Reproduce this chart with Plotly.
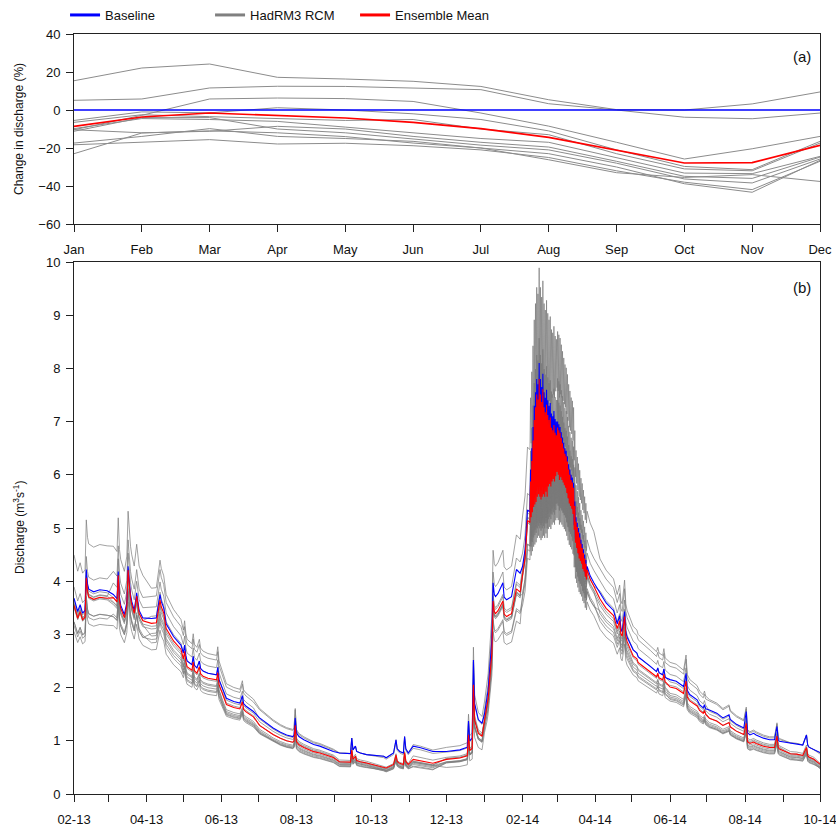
import pandas as pd
import plotly.graph_objects as go

# ---------------- Panel (a): monthly change in discharge (%) ----------------
months = ["Jan", "Feb", "Mar", "Apr", "May", "Jun", "Jul", "Aug", "Sep", "Oct", "Nov", "Dec"]
baseline_change = [0, 0, 0, 0, 0, 0, 0, 0, 0, 0, 0, 0]
rcm_01 = [15.4, 22.1, 24.2, 17.2, 16.3, 15.1, 12.4, 5.4, 0.2, 0.0, 3.2, 9.5]
rcm_02 = [5.1, 5.8, 11.6, 12.5, 12.4, 11.6, 10.7, 3.3, 0.0, -3.8, -4.6, -1.6]
rcm_03 = [-10.4, -2.8, 5.8, 6.3, 6.0, 4.5, -1.6, -8.5, -17.0, -25.8, -20.4, -13.9]
rcm_04 = [-5.5, -1.0, -1.5, 1.2, 0.0, -2.0, -5.0, -11.0, -21.0, -29.7, -31.4, -16.5]
rcm_05 = [-6.5, -2.5, -3.5, -4.5, -5.5, -5.0, -10.0, -13.0, -23.0, -31.0, -32.0, -17.4]
rcm_06 = [-9.8, -4.5, -5.0, -6.0, -9.0, -12.0, -15.0, -17.0, -25.0, -33.2, -33.5, -24.4]
rcm_07 = [-10.4, -12.0, -11.2, -8.6, -10.0, -13.9, -17.0, -19.5, -27.0, -34.9, -36.0, -24.8]
rcm_08 = [-11.2, -4.0, -4.0, -10.0, -12.0, -15.3, -18.5, -21.0, -28.0, -36.3, -38.4, -25.8]
rcm_09 = [-17.4, -13.9, -9.8, -13.9, -15.0, -16.5, -20.0, -23.0, -30.0, -38.8, -43.3, -26.5]
rcm_10 = [-18.3, -17.0, -15.6, -17.9, -17.5, -18.8, -21.0, -25.0, -32.0, -38.0, -41.9, -27.0]
rcm_11 = [-23.0, -12.1, -11.0, -12.0, -14.0, -17.4, -20.0, -26.2, -33.0, -35.5, -34.0, -37.6]
rcm_members = [rcm_01, rcm_02, rcm_03, rcm_04, rcm_05, rcm_06,
               rcm_07, rcm_08, rcm_09, rcm_10, rcm_11]
ensemble_change = [-8.6, -3.7, -1.6, -2.8, -4.2, -6.5, -9.8, -14.4, -21.2, -27.9, -27.7, -18.6]

# ---------------- Panel (b): baseline discharge (m3/s) ----------------
base_dates = [
    "2013-02-01", "2013-02-03", "2013-02-04", "2013-02-06", "2013-02-08", "2013-02-10",
    "2013-02-11", "2013-02-12", "2013-02-13", "2013-02-17", "2013-02-22", "2013-02-28",
    "2013-03-05", "2013-03-08", "2013-03-09", "2013-03-10", "2013-03-11", "2013-03-14",
    "2013-03-16", "2013-03-17", "2013-03-18", "2013-03-19", "2013-03-20", "2013-03-22",
    "2013-03-24", "2013-03-25", "2013-03-26", "2013-03-29", "2013-04-05", "2013-04-09",
    "2013-04-12", "2013-04-13", "2013-04-15", "2013-04-17", "2013-04-20", "2013-04-23",
    "2013-04-26", "2013-04-29", "2013-05-01", "2013-05-02", "2013-05-03", "2013-05-04",
    "2013-05-08", "2013-05-09", "2013-05-10", "2013-05-12", "2013-05-14", "2013-05-15",
    "2013-05-17", "2013-05-21", "2013-05-28", "2013-05-29", "2013-05-30", "2013-05-31",
    "2013-06-02", "2013-06-05", "2013-06-11", "2013-06-16", "2013-06-18", "2013-06-19",
    "2013-06-21", "2013-06-27", "2013-07-02", "2013-07-08", "2013-07-13", "2013-07-19",
    "2013-07-24", "2013-07-29", "2013-07-30", "2013-07-31", "2013-08-01", "2013-08-03",
    "2013-08-07", "2013-08-15", "2013-08-20", "2013-08-31", "2013-09-05", "2013-09-14",
    "2013-09-15", "2013-09-16", "2013-09-18", "2013-09-19", "2013-09-22", "2013-09-27",
    "2013-10-11", "2013-10-13", "2013-10-19", "2013-10-21", "2013-10-22", "2013-10-24",
    "2013-10-27", "2013-10-28", "2013-10-29", "2013-10-31", "2013-11-04", "2013-11-10",
    "2013-11-15", "2013-11-20", "2013-12-01", "2013-12-12", "2013-12-18", "2013-12-19",
    "2013-12-20", "2013-12-22", "2013-12-23", "2013-12-24", "2013-12-27", "2013-12-30",
    "2014-01-01", "2014-01-03", "2014-01-04", "2014-01-05", "2014-01-07", "2014-01-08",
    "2014-01-09", "2014-01-10", "2014-01-12", "2014-01-16", "2014-01-17", "2014-01-19",
    "2014-01-23", "2014-01-27", "2014-01-30", "2014-02-01", "2014-02-03", "2014-02-05",
    "2014-03-28", "2014-03-31", "2014-04-05", "2014-04-10", "2014-04-16", "2014-04-19",
    "2014-04-21", "2014-04-22", "2014-04-23", "2014-04-25", "2014-04-26", "2014-04-27",
    "2014-05-02", "2014-05-05", "2014-05-06", "2014-05-07", "2014-05-16", "2014-05-21",
    "2014-05-22", "2014-05-23", "2014-05-26", "2014-05-27", "2014-05-28", "2014-05-29",
    "2014-06-01", "2014-06-06", "2014-06-12", "2014-06-14", "2014-06-15", "2014-06-17",
    "2014-06-23", "2014-06-25", "2014-06-28", "2014-06-29", "2014-06-30", "2014-07-03",
    "2014-07-09", "2014-07-14", "2014-07-19", "2014-07-20", "2014-07-25", "2014-07-31",
    "2014-08-02", "2014-08-03", "2014-08-05", "2014-08-08", "2014-08-10", "2014-08-16",
    "2014-08-21", "2014-08-25", "2014-08-27", "2014-08-28", "2014-08-29", "2014-09-07",
    "2014-09-12", "2014-09-17", "2014-09-20", "2014-09-21", "2014-09-22", "2014-09-26",
    "2014-10-01",
]
base_flow = [
    3.68, 3.50, 3.43, 3.56, 3.40, 3.45,
    4.22, 3.95, 3.85, 3.80, 3.84, 3.82,
    3.75, 3.67, 4.18, 3.70, 3.55, 3.37,
    3.60, 4.28, 3.90, 3.75, 3.62, 3.45,
    3.78, 3.55, 3.45, 3.31, 3.30, 3.31,
    3.75, 3.62, 3.50, 3.20, 3.08, 2.96,
    2.88, 2.80, 2.65, 2.80, 2.60, 2.50,
    2.43, 2.59, 2.42, 2.37, 2.50, 2.36,
    2.31, 2.27, 2.24, 2.38, 2.15, 2.09,
    2.00, 1.80, 1.74, 1.71, 1.85, 1.70,
    1.65, 1.55, 1.43, 1.33, 1.24, 1.16,
    1.11, 1.08, 1.10, 1.43, 1.15, 1.08,
    1.02, 0.93, 0.90, 0.80, 0.77, 0.76,
    1.05, 0.83, 0.90, 0.80, 0.77, 0.74,
    0.71, 0.68, 0.77, 1.02, 0.85, 0.80,
    0.77, 1.08, 0.85, 0.77, 0.90, 0.87,
    0.83, 0.80, 0.80, 0.83, 0.88, 1.37,
    1.00, 1.05, 2.52, 1.70, 1.40, 1.33,
    1.50, 1.77, 1.96, 2.28, 2.90, 3.97,
    3.75, 3.71, 3.77, 3.97, 3.70, 3.65,
    3.71, 4.22, 4.15, 4.28, 4.59, 5.34,
    4.10, 3.97, 3.77, 3.59, 3.45, 3.20,
    3.35, 3.10, 3.05, 3.43, 3.05, 2.95,
    2.71, 2.65, 2.58, 2.56, 2.40, 2.30,
    2.37, 2.28, 2.24, 2.35, 2.20, 2.18,
    2.15, 2.12, 2.02, 2.27, 1.95, 1.87,
    1.77, 1.68, 1.62, 1.68, 1.60, 1.58,
    1.52, 1.43, 1.49, 1.40, 1.31, 1.24,
    1.55, 1.15, 1.11, 1.14, 1.11, 1.05,
    1.02, 1.02, 1.27, 1.02, 0.99, 0.96,
    0.95, 0.92, 1.11, 0.92, 0.88, 0.83,
    0.78,
]

# Peak-flow period (7 Feb - 25 Mar 2014): daily low / high envelope of the diurnal cycle
melt_dates = [
    "2014-02-07", "2014-02-08", "2014-02-09", "2014-02-10", "2014-02-11", "2014-02-12",
    "2014-02-13", "2014-02-14", "2014-02-15", "2014-02-16", "2014-02-17", "2014-02-18",
    "2014-02-19", "2014-02-20", "2014-02-21", "2014-02-22", "2014-02-23", "2014-02-24",
    "2014-02-25", "2014-02-26", "2014-02-27", "2014-02-28", "2014-03-01", "2014-03-02",
    "2014-03-03", "2014-03-04", "2014-03-05", "2014-03-06", "2014-03-07", "2014-03-08",
    "2014-03-09", "2014-03-10", "2014-03-11", "2014-03-12", "2014-03-13", "2014-03-14",
    "2014-03-15", "2014-03-16", "2014-03-17", "2014-03-18", "2014-03-19", "2014-03-20",
    "2014-03-21", "2014-03-22", "2014-03-23", "2014-03-24", "2014-03-25",
]
melt_low = [
    5.30, 5.40, 5.50, 5.60, 5.65, 5.70,
    5.80, 5.85, 5.80, 5.75, 5.80, 5.85,
    5.80, 5.90, 5.80, 6.00, 6.05, 6.00,
    6.10, 6.15, 6.10, 6.20, 6.15, 6.10,
    6.00, 6.05, 6.00, 5.95, 5.90, 5.85,
    5.75, 5.65, 5.55, 5.50, 5.45, 5.35,
    5.05, 4.80, 4.70, 4.60, 4.50, 4.45,
    4.40, 4.30, 4.25, 4.15, 4.10,
]
melt_high = [
    6.10, 6.50, 6.90, 7.30, 7.55, 7.80,
    7.70, 8.10, 7.80, 7.65, 7.90, 7.55,
    7.45, 7.60, 7.40, 7.30, 7.35, 7.15,
    7.10, 7.20, 7.05, 7.00, 7.00, 6.95,
    6.90, 6.80, 6.70, 6.60, 6.50, 6.45,
    6.35, 6.20, 6.10, 6.00, 5.95, 5.85,
    5.50, 5.20, 5.10, 5.00, 4.90, 4.78,
    4.70, 4.60, 4.50, 4.40, 4.28,
]

# ---------------- assemble time series ----------------
rows = list(zip(pd.to_datetime(base_dates), base_flow))
for d, lo, hi in zip(pd.to_datetime(melt_dates), melt_low, melt_high):
    rows.append((d, lo))
    rows.append((d + pd.Timedelta(hours=12), hi))
rows.sort(key=lambda r: r[0])
t = pd.DatetimeIndex([r[0] for r in rows])
q_base = [r[1] for r in rows]
month_idx = [m - 1 for m in t.month]


def apply_change(pct):
    return [q * (1 + pct[m] / 100.0) for q, m in zip(q_base, month_idx)]


BLUE = "#0000FF"
RED = "#FF0000"
GREY_A = "#8c8c8c"
GREY_B = "#7a7a7a"
FONT = "Liberation Sans, Arial, Helvetica, sans-serif"

fig = go.Figure()

# panel (a)
for pct in rcm_members:
    fig.add_trace(go.Scatter(x=months, y=pct, mode="lines", showlegend=False,
                             line=dict(color=GREY_A, width=1), xaxis="x", yaxis="y",
                             hoverinfo="skip"))
fig.add_trace(go.Scatter(x=months, y=baseline_change, mode="lines", showlegend=False,
                         line=dict(color=BLUE, width=1.3), xaxis="x", yaxis="y"))
fig.add_trace(go.Scatter(x=months, y=ensemble_change, mode="lines", showlegend=False,
                         line=dict(color=RED, width=1.6), xaxis="x", yaxis="y"))

# panel (b)
for pct in rcm_members:
    fig.add_trace(go.Scatter(x=t, y=apply_change(pct), mode="lines", showlegend=False,
                             line=dict(color=GREY_B, width=0.7), xaxis="x2", yaxis="y2",
                             hoverinfo="skip"))
fig.add_trace(go.Scatter(x=t, y=q_base, mode="lines", showlegend=False,
                         line=dict(color=BLUE, width=1.1), xaxis="x2", yaxis="y2"))
fig.add_trace(go.Scatter(x=t, y=apply_change(ensemble_change), mode="lines", showlegend=False,
                         line=dict(color=RED, width=1.1), xaxis="x2", yaxis="y2"))

# legend entries
for name, col in [("Baseline", BLUE), ("HadRM3 RCM", "#808080"), ("Ensemble Mean", RED)]:
    fig.add_trace(go.Scatter(x=[None], y=[None], mode="lines", name=name,
                             line=dict(color=col, width=3), xaxis="x", yaxis="y"))

axis_common = dict(showline=True, linecolor="#222", linewidth=1, mirror=True,
                   ticks="outside", ticklen=7, tickcolor="#222", tickwidth=1,
                   showgrid=False, zeroline=False, ticklabeloverflow="allow",
                   tickfont=dict(size=13, color="#111", family=FONT))

fig.update_layout(
    width=836, height=829,
    margin=dict(l=74, r=16, t=34, b=35, autoexpand=False),
    paper_bgcolor="white", plot_bgcolor="white",
    font=dict(family=FONT, size=12, color="#111"),
    xaxis=dict(domain=[0, 1], anchor="y", type="category", range=[0, 11],
               ticklabelstandoff=6, **axis_common),
    yaxis=dict(domain=[0.75, 1.0], anchor="x", range=[-60, 40], dtick=20,
               ticklabelstandoff=3, **axis_common),
    xaxis2=dict(domain=[0, 1], anchor="y2", type="date",
                range=["2013-02-01", "2014-10-01"], tick0="2013-02-01", dtick="M2",
                tickformat="%m-%y", ticklabelstandoff=6,
                minor=dict(dtick="M1", tick0="2013-02-01", ticks="outside", ticklen=7,
                           tickcolor="#222", showgrid=False),
                **axis_common),
    yaxis2=dict(domain=[0, 0.7], anchor="x2", range=[0, 10], dtick=1,
                ticklabelstandoff=3, **axis_common),
    legend=dict(orientation="h", x=-0.012, xanchor="left", y=1.025, yanchor="middle",
                font=dict(size=13, family=FONT), entrywidth=100,
                bgcolor="rgba(0,0,0,0)", itemwidth=30),
    showlegend=True,
    annotations=[
        dict(text="(a)", xref="paper", yref="paper", x=0.976, y=0.97, showarrow=False,
             xanchor="center", yanchor="middle", font=dict(size=15)),
        dict(text="(b)", xref="paper", yref="paper", x=0.976, y=0.666, showarrow=False,
             xanchor="center", yanchor="middle", font=dict(size=15)),
        dict(text="Change in discharge (%)", xref="paper", yref="paper", x=-0.0737,
             y=0.875, textangle=-90, showarrow=False, xanchor="center", yanchor="middle",
             font=dict(size=12)),
        dict(text="Discharge (m<sup>3</sup>s<sup>-1</sup>)", xref="paper", yref="paper",
             x=-0.0737, y=0.35, textangle=-90, showarrow=False, xanchor="center",
             yanchor="middle", font=dict(size=12)),
    ],
)

fig.write_html("out.html")
